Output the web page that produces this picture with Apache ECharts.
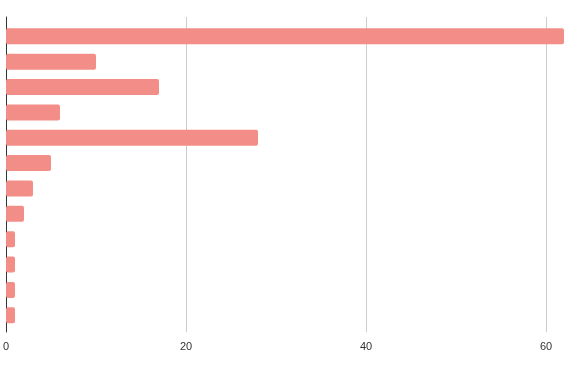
<!DOCTYPE html>
<html>
<head>
<meta charset="utf-8">
<script src="https://cdn.jsdelivr.net/npm/echarts@6/dist/echarts.min.js"></script>
<style>
html,body{margin:0;padding:0;background:#fff;}
#chart{width:569px;height:371px;}
</style>
</head>
<body>
<div id="chart"></div>
<script>
var categories = ['Category 1','Category 2','Category 3','Category 4','Category 5','Category 6','Category 7','Category 8','Category 9','Category 10','Category 11','Category 12'];
var values = [62, 10, 17, 6, 28, 5, 3, 2, 1, 1, 1, 1];
var xMax = 62;
var xInterval = 20;

var chart = echarts.init(document.getElementById('chart'), null, {renderer:'canvas'});
chart.setOption({
  animation: false,
  backgroundColor: '#ffffff',
  grid: [
    {left: 6, right: 5, top: 17, bottom: 39, containLabel: false, outerBoundsMode: 'none'},
    {left: 6, right: 5, top: 23.6, bottom: 43, containLabel: false, outerBoundsMode: 'none'}
  ],
  xAxis: [
    {
      gridIndex: 0, type: 'value', min: 0, max: xMax, interval: xInterval,
      axisLine: {show: false}, axisTick: {show: false},
      axisLabel: {show: true, showMaxLabel: false, color: '#333', fontSize: 11, fontFamily: 'Liberation Sans, Arial, sans-serif', margin: 9},
      splitLine: {show: true, showMinLine: false, showMaxLine: false, lineStyle: {color: '#cccccc', width: 1}}
    },
    {
      gridIndex: 1, type: 'value', min: 0, max: xMax,
      show: false
    }
  ],
  yAxis: [
    {
      gridIndex: 0, type: 'category', data: [''],
      axisLine: {show: true, lineStyle: {color: '#333333', width: 1}},
      axisTick: {show: false}, axisLabel: {show: false}, splitLine: {show: false}
    },
    {
      gridIndex: 1, type: 'category', data: categories, inverse: true,
      axisLine: {show: false}, axisTick: {show: false},
      axisLabel: {show: true, color: '#222', fontSize: 11, fontFamily: 'Liberation Sans, Arial, sans-serif', margin: 12},
      splitLine: {show: false}
    }
  ],
  series: [{
    type: 'bar',
    xAxisIndex: 1,
    yAxisIndex: 1,
    data: values,
    barWidth: 16,
    itemStyle: {color: '#f28e87', borderRadius: 2}
  }]
});
</script>
</body>
</html>
